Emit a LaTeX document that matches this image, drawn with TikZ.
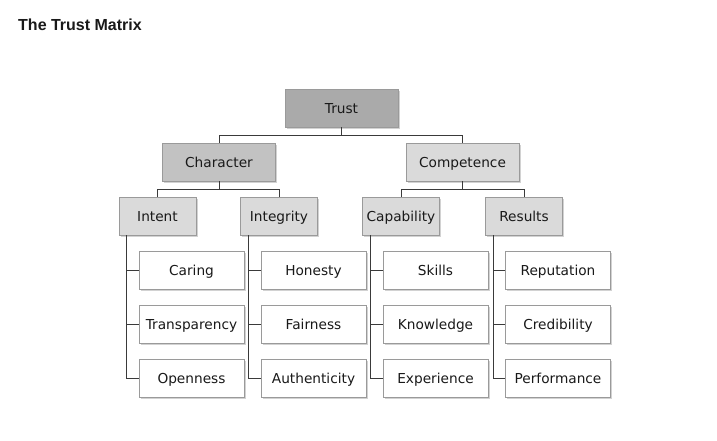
\documentclass[tikz,border=0pt]{standalone}
\usepackage{fontspec}
\setmainfont{DejaVu Sans}
\newfontfamily\titlefont{Liberation Sans}
\usetikzlibrary{shadows}
\definecolor{lineclr}{HTML}{3A3A3A}
\definecolor{borderclr}{HTML}{9A9A9A}
\definecolor{topfill}{HTML}{AAAAAA}
\definecolor{midfill}{HTML}{C2C2C2}
\definecolor{lightfill}{HTML}{DADADA}
\tikzset{
  box/.style={draw=borderclr, line width=0.8pt, minimum height=38pt, inner sep=0pt,
    font=\fontsize{13.7}{16}\selectfont, text=black!90, text height=12pt, text depth=2pt,
    drop shadow={shadow xshift=1.6pt, shadow yshift=-1.6pt, opacity=0.35, fill=gray}},
  bigbox/.style={box, minimum width=113pt},
  smallbox/.style={box, minimum width=77pt, fill=lightfill},
  leaf/.style={box, minimum width=105pt, fill=white},
  conn/.style={draw=lineclr, line width=0.9pt},
}
\begin{document}
\begin{tikzpicture}[x=1pt,y=-1pt]
\useasboundingbox[fill=white] (0,0) rectangle (717,440);
\node[anchor=west, inner sep=0pt, font=\titlefont\bfseries\fontsize{16}{18}\selectfont, text=black!90] (title) at (18,25) {The Trust Matrix};

\node[bigbox, fill=topfill] (trust) at (341.5,108) {Trust};
\node[bigbox, fill=midfill] (char) at (219,162) {Character};
\node[bigbox, fill=lightfill] (comp) at (462.5,162) {Competence};

\node[smallbox] (intent) at (157.5,216) {Intent};
\node[smallbox] (integ) at (279,216) {Integrity};
\node[smallbox] (capab) at (401,216) {Capability};
\node[smallbox] (resul) at (524,216) {Results};

\node[leaf] (caring) at (191.5,270) {Caring};
\node[leaf] (transp) at (191.5,324) {Transparency};
\node[leaf] (openn) at (191.5,378) {Openness};
\node[leaf] (hones) at (313.5,270) {Honesty};
\node[leaf] (fair) at (313.5,324) {Fairness};
\node[leaf] (authe) at (313.5,378) {Authenticity};
\node[leaf] (skill) at (435.5,270) {Skills};
\node[leaf] (knowl) at (435.5,324) {Knowledge};
\node[leaf] (exper) at (435.5,378) {Experience};
\node[leaf] (reput) at (558,270) {Reputation};
\node[leaf] (cred) at (558,324) {Credibility};
\node[leaf] (perf) at (558,378) {Performance};

\draw[conn] (trust.south) -- ++(0,8) -| (char.north);
\draw[conn] (trust.south) -- ++(0,8) -| (comp.north);
\draw[conn] (char.south) -- ++(0,8) -| (intent.north);
\draw[conn] (char.south) -- ++(0,8) -| (integ.north);
\draw[conn] (comp.south) -- ++(0,8) -| (capab.north);
\draw[conn] (comp.south) -- ++(0,8) -| (resul.north);

\foreach \p/\a/\b/\c in {intent/caring/transp/openn, integ/hones/fair/authe, capab/skill/knowl/exper, resul/reput/cred/perf}{
  \draw[conn] ([xshift=8pt]\p.south west) |- (\a.west);
  \draw[conn] ([xshift=8pt]\p.south west) |- (\b.west);
  \draw[conn] ([xshift=8pt]\p.south west) |- (\c.west);
}
\end{tikzpicture}
\end{document}
